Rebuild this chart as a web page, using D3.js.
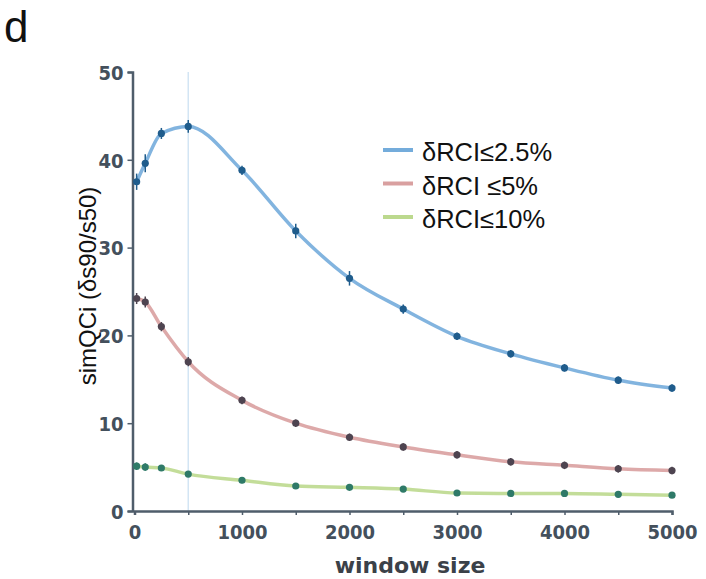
<!DOCTYPE html>
<html>
<head>
<meta charset="utf-8">
<script src="https://cdn.jsdelivr.net/npm/d3@7"></script>
<style>
  body { margin: 0; background: #fff; }
  svg { display: block; }
</style>
</head>
<body>
<svg id="chart" width="706" height="579"></svg>
<script>
"use strict";

const windowSizes = [20, 100, 250, 500, 1000, 1500, 2000, 2500, 3000, 3500, 4000, 4500, 5000];
const rci25 = [37.5, 39.6, 43.0, 43.8, 38.8, 31.9, 26.5, 23.0, 19.9, 17.9, 16.3, 14.9, 14.0];
const rci5 = [24.2, 23.8, 21.0, 17.0, 12.6, 10.0, 8.4, 7.3, 6.4, 5.6, 5.2, 4.8, 4.6];
const rci10 = [5.1, 5.0, 4.9, 4.2, 3.5, 2.85, 2.7, 2.5, 2.05, 2.0, 2.0, 1.9, 1.8];
const err25 = [0.7, 0.8, 0.4, 0.5, 0.3, 0.6, 0.6, 0.3, 0.2, 0.2, 0.2, 0.2, 0.2];
const err5 = [0.4, 0.4, 0.3, 0.3, 0.2, 0.2, 0.2, 0.2, 0.2, 0.2, 0.2, 0.2, 0.2];
const err10 = [0.2, 0.2, 0.1, 0.1, 0.1, 0.1, 0.1, 0.1, 0.1, 0.1, 0.1, 0.1, 0.1];
const xTicks = [0, 1000, 2000, 3000, 4000, 5000];
const yTicks = [0, 10, 20, 30, 40, 50];
const seriesNames = ["δRCI≤2.5%", "δRCI ≤5%", "δRCI≤10%"];

const series = [
    {name: seriesNames[0], values: rci25, err: err25, line: "#74acdb", dot: "#1f5c8c"},
    {name: seriesNames[1], values: rci5, err: err5, line: "#d9a0a0", dot: "#4e4450"},
    {name: seriesNames[2], values: rci10, err: err10, line: "#bcd98e", dot: "#2f7a68"}
];

const svg = d3.select("#chart"),
    x = d3.scaleLinear().domain([0, 5000]).range([134.5, 672]),
    y = d3.scaleLinear().domain([0, 50]).range([511, 72]);

const axisColor = "#4f5d6b";

// faint guide at window size 500
svg.append("line")
    .attr("x1", x(500)).attr("x2", x(500))
    .attr("y1", y(50)).attr("y2", y(0))
    .attr("stroke", "#d3e5f4").attr("stroke-width", 1.5);

// axes
const gx = svg.append("g")
    .attr("transform", `translate(0,${y(0)})`)
    .call(d3.axisBottom(x).tickValues(d3.range(0, 5001, 500)).tickSize(4).tickFormat(d => xTicks.includes(d) ? d : ""));
const gy = svg.append("g")
    .attr("transform", `translate(${x(0) - 2},0)`)
    .call(d3.axisLeft(y).tickValues(yTicks).tickSize(5));

[gx, gy].forEach(g => {
    g.select(".domain").attr("stroke", axisColor).attr("stroke-width", 2.5);
    g.selectAll(".tick line").attr("stroke", axisColor).attr("stroke-width", 1.5);
    g.selectAll(".tick text")
        .attr("fill", "#44505c")
        .attr("font-family", "'DejaVu Sans Condensed', 'DejaVu Sans', sans-serif")
        .attr("font-weight", "bold")
        .attr("font-size", 20);
});
gx.selectAll(".tick text").attr("dy", "1.05em");
gy.selectAll(".tick text").attr("dy", "0.36em").attr("dx", "-1px");

// lines
const line = d3.line()
    .x((d, i) => x(windowSizes[i]))
    .y(d => y(d))
    .curve(d3.curveMonotoneX);

series.forEach(s => {
    svg.append("path")
        .datum(s.values)
        .attr("d", line)
        .attr("fill", "none")
        .attr("stroke", s.line)
        .attr("stroke-width", 3.5)
        .attr("stroke-opacity", 0.9);

    const g = svg.append("g");
    g.selectAll("line.err")
        .data(s.values)
        .enter().append("line")
        .attr("x1", (d, i) => x(windowSizes[i]))
        .attr("x2", (d, i) => x(windowSizes[i]))
        .attr("y1", (d, i) => y(d - s.err[i]) + 2)
        .attr("y2", (d, i) => y(d + s.err[i]) - 2)
        .attr("stroke", s.dot).attr("stroke-width", 1.5);
    g.selectAll("circle")
        .data(s.values)
        .enter().append("circle")
        .attr("cx", (d, i) => x(windowSizes[i]))
        .attr("cy", d => y(d))
        .attr("r", 3.6)
        .attr("fill", s.dot);
});

// legend
const legend = svg.append("g");
legend.append("rect")
    .attr("x", 418).attr("y", 134).attr("width", 196).attr("height", 100)
    .attr("fill", "#fff");
series.forEach((s, i) => {
    const ly = 150 + i * 33.5;
    legend.append("line")
        .attr("x1", 383).attr("x2", 413).attr("y1", ly).attr("y2", ly)
        .attr("stroke", s.line).attr("stroke-width", 4);
    legend.append("text")
        .attr("x", 422).attr("y", ly + 11)
        .attr("font-family", "'Liberation Sans', Arial, sans-serif")
        .attr("font-size", 25.5)
        .attr("fill", "#111")
        .text(s.name);
});

// axis titles
svg.append("text")
    .attr("transform", `translate(96,286) rotate(-90)`)
    .attr("text-anchor", "middle")
    .attr("font-family", "'Liberation Sans', Arial, sans-serif")
    .attr("font-size", 24)
    .attr("fill", "#111")
    .text("simQCi (δs90/s50)");

svg.append("text")
    .attr("x", 410).attr("y", 573)
    .attr("text-anchor", "middle")
    .attr("font-family", "'DejaVu Sans', sans-serif")
    .attr("font-weight", "bold")
    .attr("font-size", 22)
    .attr("fill", "#3b4148")
    .text("window size");

svg.append("text")
    .attr("x", 4).attr("y", 42)
    .attr("font-family", "'Liberation Sans', Arial, sans-serif")
    .attr("font-size", 44)
    .attr("fill", "#111")
    .text("d");
</script>
</body>
</html>
